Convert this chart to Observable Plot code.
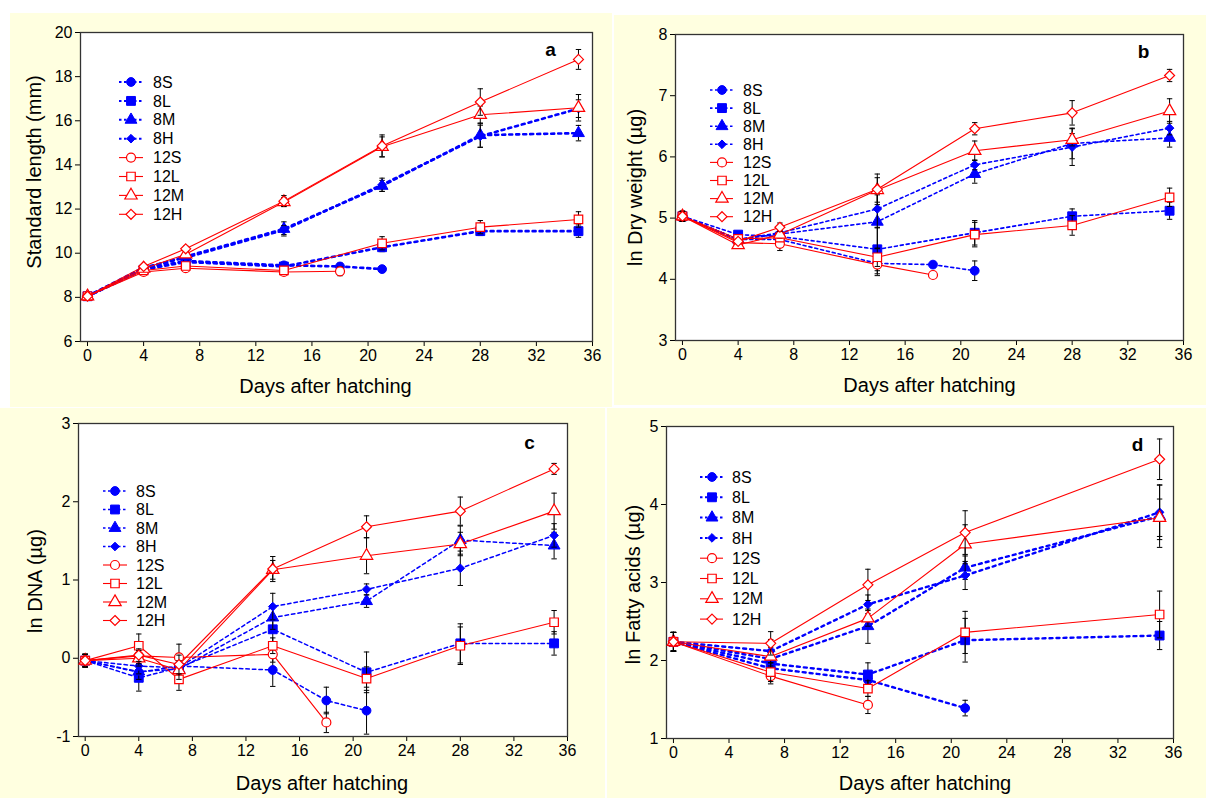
<!DOCTYPE html>
<html><head><meta charset="utf-8">
<script src="https://cdn.jsdelivr.net/npm/d3@7"></script>
<script src="https://cdn.jsdelivr.net/npm/@observablehq/plot@0.6"></script>
<style>
body{margin:0;background:#fff;font-family:"Liberation Sans",Arial,sans-serif;}
#wrap{position:relative;width:1206px;height:798px;overflow:hidden;background:#fff;}
.panel{position:absolute;background:#ffffe0;}
.panel svg{display:block;}
</style></head><body><div id="wrap"></div>
<script>
// ---------- DATA ----------
const seriesNames = ["8S","8L","8M","8H","12S","12L","12M","12H"];
const daysMain = [0,4,7,14,18,21,28,35];
const daysFA = [0,7,14,21,35];
const xTicks = [0,4,8,12,16,20,24,28,32,36];

// a: Standard length (mm)
const lengthMean = [
 [8.05, 9.3, 9.65, 9.45, 9.4, 9.28, null, null],
 [8.05, 9.25, 9.6, 9.4, null, 10.27, 11.0, 11.0],
 [8.05, 9.3, 9.85, 11.1, null, 13.05, 15.35, 15.44],
 [8.05, 9.35, 9.8, 11.05, null, 13.1, 15.3, 16.55],
 [8.05, 9.15, 9.32, 9.15, 9.18, null, null, null],
 [8.05, 9.22, 9.42, 9.22, null, 10.45, 11.18, 11.53],
 [8.05, 9.3, 9.95, 12.32, null, 14.82, 16.27, 16.59],
 [8.05, 9.4, 10.2, 12.36, null, 14.86, 16.85, 18.78]];
const lengthSE = [
 [0.05, 0.1, 0.1, 0.12, 0.15, 0.1, null, null],
 [0.05, 0.1, 0.1, 0.12, null, 0.2, 0.2, 0.28],
 [0.05, 0.1, 0.12, 0.32, null, 0.25, 0.55, 0.35],
 [0.05, 0.1, 0.12, 0.2, null, 0.3, 0.5, 0.4],
 [0.05, 0.08, 0.1, 0.1, 0.2, null, null, null],
 [0.05, 0.1, 0.1, 0.12, null, 0.3, 0.3, 0.35],
 [0.05, 0.1, 0.12, 0.2, null, 0.45, 0.4, 0.6],
 [0.05, 0.1, 0.12, 0.25, null, 0.5, 0.6, 0.45]];
const lengthTicks = [6,8,10,12,14,16,18,20];

// b: ln Dry weight (µg)
const dryMean = [
 [5.03, 4.65, 4.65, 4.26, 4.24, 4.14, null, null],
 [5.03, 4.73, 4.7, 4.49, null, 4.76, 5.03, 5.12],
 [5.03, 4.65, 4.74, 4.94, null, 5.72, 6.22, 6.31],
 [5.03, 4.65, 4.76, 5.15, null, 5.87, 6.16, 6.47],
 [5.03, 4.6, 4.58, 4.24, 4.07, null, null, null],
 [5.03, 4.66, 4.68, 4.36, null, 4.73, 4.88, 5.34],
 [5.03, 4.56, 4.73, 5.46, null, 6.1, 6.28, 6.75],
 [5.03, 4.62, 4.85, 5.47, null, 6.46, 6.72, 7.33]];
const drySE = [
 [0.08, 0.04, 0.05, 0.2, 0.04, 0.16, null, null],
 [0.08, 0.04, 0.05, 0.35, null, 0.2, 0.12, 0.14],
 [0.08, 0.04, 0.05, 0.44, null, 0.15, 0.25, 0.15],
 [0.08, 0.04, 0.05, 0.3, null, 0.08, 0.3, 0.11],
 [0.08, 0.04, 0.11, 0.15, 0.05, null, null, null],
 [0.08, 0.04, 0.06, 0.15, null, 0.2, 0.16, 0.15],
 [0.08, 0.04, 0.06, 0.2, null, 0.16, 0.1, 0.2],
 [0.08, 0.04, 0.07, 0.25, null, 0.1, 0.2, 0.1]];
const dryTicks = [3,4,5,6,7,8];

// c: ln DNA (µg)
const dnaMean = [
 [-0.03, -0.18, -0.1, -0.15, -0.54, -0.67, null, null],
 [-0.03, -0.25, -0.12, 0.37, null, -0.18, 0.19, 0.19],
 [-0.03, -0.17, -0.14, 0.52, null, 0.73, 1.51, 1.44],
 [-0.03, -0.1, -0.12, 0.66, null, 0.88, 1.15, 1.57],
 [-0.03, 0.03, 0.01, 0.05, -0.82, null, null, null],
 [-0.03, 0.16, -0.27, 0.16, null, -0.26, 0.16, 0.46],
 [-0.03, 0.0, -0.15, 1.13, null, 1.31, 1.46, 1.88],
 [-0.03, 0.04, -0.08, 1.14, null, 1.68, 1.88, 2.42]];
const dnaSE = [
 [0.08, 0.1, 0.1, 0.21, 0.17, 0.3, null, null],
 [0.08, 0.17, 0.12, 0.17, null, 0.26, 0.25, 0.15],
 [0.08, 0.1, 0.12, 0.15, null, 0.08, 0.18, 0.17],
 [0.08, 0.1, 0.12, 0.17, null, 0.07, 0.22, 0.15],
 [0.08, 0.1, 0.17, 0.1, 0.13, null, null, null],
 [0.08, 0.15, 0.14, 0.1, null, 0.15, 0.24, 0.15],
 [0.08, 0.1, 0.12, 0.12, null, 0.23, 0.15, 0.23],
 [0.08, 0.08, 0.12, 0.16, null, 0.14, 0.18, 0.07]];
const dnaTicks = [-1,0,1,2,3];

// d: ln Fatty acids (µg)
const faMean = [
 [2.24, 1.9, 1.75, 1.39, null],
 [2.24, 1.96, 1.82, 2.26, 2.32],
 [2.24, 2.02, 2.44, 3.19, 3.85],
 [2.24, 2.12, 2.72, 3.09, 3.9],
 [2.24, 1.8, 1.43, null, null],
 [2.24, 1.85, 1.64, 2.36, 2.59],
 [2.24, 2.05, 2.54, 3.49, 3.83],
 [2.24, 2.22, 2.97, 3.64, 4.58]];
const faSE = [
 [0.12, 0.12, 0.1, 0.1, null],
 [0.12, 0.12, 0.15, 0.28, 0.18],
 [0.12, 0.12, 0.22, 0.15, 0.4],
 [0.12, 0.15, 0.12, 0.18, 0.35],
 [0.12, 0.1, 0.11, null, null],
 [0.12, 0.12, 0.1, 0.27, 0.3],
 [0.12, 0.12, 0.1, 0.25, 0.24],
 [0.12, 0.15, 0.2, 0.28, 0.26]];
const faTicks = [1,2,3,4,5];

// ---------- STYLE ----------
const BLUE = "#0000ff", RED = "#ff0000";
const seriesStyle = {
  "8S":  {symbol: "circle",   d3sym: d3.symbolCircle,   r: 4.4, fill: BLUE,    stroke: BLUE},
  "8L":  {symbol: "square",   d3sym: d3.symbolSquare,   r: 5.0, fill: BLUE,    stroke: BLUE},
  "8M":  {symbol: "triangle", d3sym: d3.symbolTriangle, r: 4.4, fill: BLUE,    stroke: BLUE},
  "8H":  {symbol: "diamond2", d3sym: d3.symbolDiamond2, r: 3.9, fill: BLUE,    stroke: BLUE},
  "12S": {symbol: "circle",   d3sym: d3.symbolCircle,   r: 4.5, fill: "white", stroke: RED},
  "12L": {symbol: "square",   d3sym: d3.symbolSquare,   r: 4.8, fill: "white", stroke: RED},
  "12M": {symbol: "triangle", d3sym: d3.symbolTriangle, r: 4.6, fill: "white", stroke: RED},
  "12H": {symbol: "diamond2", d3sym: d3.symbolDiamond2, r: 4.5, fill: "white", stroke: RED}
};
const capSymbol = {draw(ctx) { ctx.moveTo(-2.7, 0); ctx.lineTo(2.7, 0); }};
const FONT = "'Liberation Sans', Arial, Helvetica, sans-serif";

const panels = [
  {id: "a", left: 10, top: 13, width: 602, height: 394, mL: 70, mR: 20, mT: 19, mB: 66,
   days: daysMain, mean: lengthMean, se: lengthSE, yDomain: [6, 20], yTicks: lengthTicks,
   yLabel: "Standard length (mm)", yLdx: -46, yLdy: -15, xLdx: -11, xLdy: 45,
   letterDx: -42, letterDy: 17, blueW: 2.6, blueDash: "3,4",
   leg: {x0: 39, x1: 63, xm: 51, xt: 73, y0: 50, dy: 18.9, fs: 16}},
  {id: "b", left: 614, top: 15, width: 592, height: 390, mL: 61, mR: 23, mT: 19, mB: 65,
   days: daysMain, mean: dryMean, se: drySE, yDomain: [3, 8], yTicks: dryTicks,
   yLabel: "ln Dry weight (\u00b5g)", yLdx: -40, yLdy: 0, xLdx: 0, xLdy: 45,
   letterDx: -40, letterDy: 17, blueW: 1.6, blueDash: "3,3",
   leg: {x0: 35, x1: 58, xm: 47, xt: 68, y0: 56, dy: 18.1, fs: 16}},
  {id: "c", left: 0, top: 408, width: 605, height: 390, mL: 78, mR: 38, mT: 15, mB: 62,
   days: daysMain, mean: dnaMean, se: dnaSE, yDomain: [-1, 3], yTicks: dnaTicks,
   yLabel: "ln DNA (\u00b5g)", yLdx: -43, yLdy: 1, xLdx: -1, xLdy: 47,
   letterDx: -38, letterDy: 19, blueW: 1.5, blueDash: "3.5,3",
   leg: {x0: 25, x1: 49, xm: 37, xt: 58, y0: 68, dy: 18.5, fs: 16}},
  {id: "d", left: 607, top: 408, width: 599, height: 390, mL: 59, mR: 33, mT: 18, mB: 60,
   days: daysFA, mean: faMean, se: faSE, yDomain: [1, 5], yTicks: faTicks,
   yLabel: "ln Fatty acids (\u00b5g)", yLdx: -33, yLdy: 2, xLdx: 5, xLdy: 45,
   letterDx: -36, letterDy: 18, blueW: 2.4, blueDash: "3,4",
   leg: {x0: 34, x1: 57, xm: 46, xt: 66, y0: 51, dy: 20.3, fs: 16}}
];

function buildRows(days, mean, se) {
  const rows = [];
  seriesNames.forEach((s, i) => days.forEach((d, j) => {
    const v = mean[i][j];
    if (v != null) rows.push({series: s, day: d, value: v, se: se[i][j] || 0});
  }));
  return rows;
}

const wrap = document.getElementById("wrap");
for (const p of panels) {
  const rows = buildRows(p.days, p.mean, p.se);
  const marks = [Plot.frame({fill: "white", stroke: "#333", strokeWidth: 1.3})];
  for (const s of seriesNames) {
    const st = seriesStyle[s];
    const d = rows.filter(r => r.series === s);
    const blue = s.startsWith("8");
    marks.push(Plot.line(d, {x: "day", y: "value", stroke: st.stroke,
      strokeWidth: blue ? p.blueW : 1.1, strokeDasharray: blue ? p.blueDash : null}));
    const eb = d.filter(r => r.se > 0);
    marks.push(Plot.ruleX(eb, {x: "day", y1: r => r.value - r.se, y2: r => r.value + r.se, stroke: "black", strokeWidth: 1}));
    marks.push(Plot.dot(eb, {x: "day", y: r => r.value - r.se, symbol: capSymbol, r: 3, fill: "none", stroke: "black", strokeWidth: 1}));
    marks.push(Plot.dot(eb, {x: "day", y: r => r.value + r.se, symbol: capSymbol, r: 3, fill: "none", stroke: "black", strokeWidth: 1}));
    marks.push(Plot.dot(d, {x: "day", y: "value", symbol: st.symbol, r: st.r, fill: st.fill,
      stroke: st.stroke, strokeWidth: blue ? 1 : 1.2}));
  }
  marks.push(Plot.text([p.id], {frameAnchor: "top-right", dx: p.letterDx, dy: p.letterDy,
    textAnchor: "middle", lineAnchor: "middle", fontSize: 19, fontWeight: "bold", text: d => d}));
  marks.push(Plot.text(["Days after hatching"], {frameAnchor: "bottom", dx: p.xLdx, dy: p.xLdy,
    textAnchor: "middle", lineAnchor: "middle", fontSize: 20, text: d => d}));
  marks.push(Plot.text([p.yLabel], {frameAnchor: "left", rotate: -90, dx: p.yLdx, dy: p.yLdy,
    textAnchor: "middle", lineAnchor: "middle", fontSize: 20, text: d => d}));

  const svg = Plot.plot({
    width: p.width, height: p.height,
    marginLeft: p.mL, marginRight: p.mR, marginTop: p.mT, marginBottom: p.mB,
    style: {background: "transparent", fontFamily: FONT, fontSize: "16px", color: "black"},
    x: {domain: [-0.5, 36], ticks: xTicks, tickSize: 5, tickPadding: 3, label: null, tickFormat: d => String(d)},
    y: {domain: p.yDomain, ticks: p.yTicks, tickSize: 5, tickPadding: 3, label: null, tickFormat: d => String(d)},
    marks
  });

  // legend drawn inside the frame
  const g = d3.select(svg).append("g").attr("font-family", FONT).attr("font-size", p.leg.fs)
    .attr("text-anchor", "start");
  seriesNames.forEach((s, i) => {
    const st = seriesStyle[s];
    const blue = s.startsWith("8");
    const y = p.mT + p.leg.y0 + i * p.leg.dy;
    g.append("line").attr("x1", p.mL + p.leg.x0).attr("x2", p.mL + p.leg.x1)
      .attr("y1", y).attr("y2", y).attr("stroke", st.stroke)
      .attr("stroke-width", blue ? Math.min(p.blueW, 2) : 1.1)
      .attr("stroke-dasharray", blue ? "2.5,2.5" : null);
    g.append("path").attr("d", d3.symbol(st.d3sym, Math.PI * st.r * st.r)())
      .attr("transform", `translate(${p.mL + p.leg.xm},${y})`)
      .attr("fill", st.fill).attr("stroke", st.stroke).attr("stroke-width", blue ? 1 : 1.2);
    g.append("text").attr("x", p.mL + p.leg.xt).attr("y", y).attr("dy", "0.35em")
      .attr("text-anchor", "start").attr("fill", "black").text(s);
  });

  const div = document.createElement("div");
  div.className = "panel";
  Object.assign(div.style, {left: p.left + "px", top: p.top + "px", width: p.width + "px", height: p.height + "px"});
  div.appendChild(svg);
  wrap.appendChild(div);
}
</script></body></html>
